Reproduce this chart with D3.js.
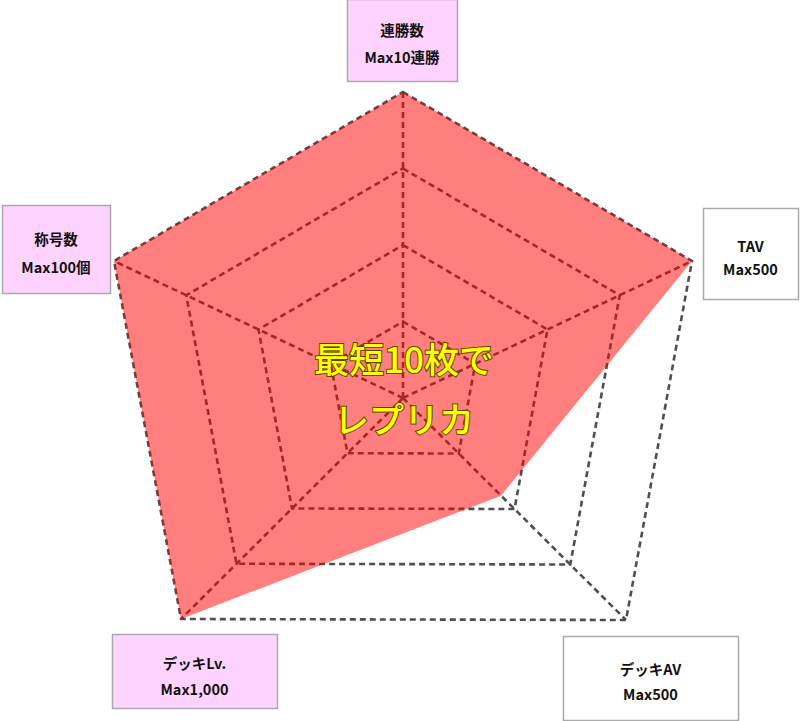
<!DOCTYPE html>
<html>
<head>
<meta charset="utf-8">
<script src="https://cdn.jsdelivr.net/npm/d3@7"></script>
<style>
  html, body { margin: 0; padding: 0; background: #fff; }
  svg { display: block; }
</style>
</head>
<body>
<svg id="chart" width="800" height="721"></svg>
<script>
// ---- data ----
const categories = ["連勝数", "TAV", "デッキAV", "デッキLv.", "称号数"];
const maxLabels = ["Max10連勝", "Max500", "Max500", "Max1,000", "Max100個"];
const maxValues = [10, 500, 500, 1000, 100];
const values = [10, 500, 220, 1000, 100];
const highlighted = [true, false, false, true, true];
const gridLevels = [0.25, 0.5, 0.75, 1];
const centerText = ["最短10枚で", "レプリカ"];

// ---- layout ----
const svg = d3.select("#chart");
const cx = 403, cy = 398;
// axis end vectors (the reference pentagon is drawn slightly irregular)
const axisVec = [[0, -306], [289, -137], [223, 222], [-222, 221], [-289, -137]];
const boxes = [
  {x: 347, y: -1, w: 110, h: 82, t1: 29, t2: 56},
  {x: 703, y: 208, w: 95, h: 91, t1: 245, t2: 268},
  {x: 563, y: 636, w: 175, h: 84, t1: 668, t2: 693},
  {x: 112, y: 634, w: 165, h: 74, t1: 662, t2: 688},
  {x: 2, y: 205, w: 108, h: 88, t1: 238, t2: 266}
];

const scales = maxValues.map(m => d3.scaleLinear().domain([0, m]).range([0, 1]));
const pt = (i, f) => [cx + axisVec[i][0] * f, cy + axisVec[i][1] * f];

const gridColor = "#4f4f4f";
const line = d3.line();

// grid rings
svg.append("g").selectAll("path.ring").data(gridLevels).join("path")
  .attr("d", f => line(categories.map((c, i) => pt(i, f))) + "Z")
  .attr("fill", "none")
  .attr("stroke", gridColor)
  .attr("stroke-width", 2.6)
  .attr("stroke-dasharray", "6,4");

// spokes
svg.append("g").selectAll("line").data(categories).join("line")
  .attr("x1", cx).attr("y1", cy)
  .attr("x2", (c, i) => pt(i, 1)[0])
  .attr("y2", (c, i) => pt(i, 1)[1])
  .attr("stroke", gridColor)
  .attr("stroke-width", 2.6)
  .attr("stroke-dasharray", "6,4");

// data polygon
svg.append("path")
  .attr("d", line(values.map((v, i) => pt(i, scales[i](v)))) + "Z")
  .attr("fill", "rgba(255,0,0,0.5)")
  .attr("stroke", "none");

// label boxes
const lg = svg.append("g").selectAll("g").data(categories).join("g");
lg.append("rect")
  .attr("x", (c, i) => boxes[i].x + 0.5)
  .attr("y", (c, i) => boxes[i].y + 0.5)
  .attr("width", (c, i) => boxes[i].w)
  .attr("height", (c, i) => boxes[i].h)
  .attr("fill", (c, i) => highlighted[i] ? "#FFD3FF" : "#FFFFFF")
  .attr("stroke", "#AAAAAA")
  .attr("stroke-width", 1.5);
lg.append("text")
  .attr("x", (c, i) => boxes[i].x + boxes[i].w / 2)
  .attr("y", (c, i) => boxes[i].t1)
  .attr("text-anchor", "middle")
  .attr("dominant-baseline", "central")
  .attr("font-family", "'Noto Sans CJK JP', 'Noto Sans', sans-serif")
  .attr("font-weight", 700)
  .attr("font-size", 14.5)
  .attr("fill", "#111")
  .text(c => c);
lg.append("text")
  .attr("x", (c, i) => boxes[i].x + boxes[i].w / 2)
  .attr("y", (c, i) => boxes[i].t2)
  .attr("text-anchor", "middle")
  .attr("dominant-baseline", "central")
  .attr("font-family", "'Noto Sans CJK JP', 'Noto Sans', sans-serif")
  .attr("font-weight", 700)
  .attr("font-size", 14.5)
  .attr("fill", "#111")
  .text((c, i) => maxLabels[i]);

// center text
svg.append("g").selectAll("text").data(centerText).join("text")
  .attr("x", 404)
  .attr("y", (d, i) => 357 + i * 60)
  .attr("text-anchor", "middle")
  .attr("dominant-baseline", "central")
  .attr("font-family", "'Noto Sans CJK JP', sans-serif")
  .attr("font-weight", 500)
  .attr("font-size", 35)
  .attr("fill", "#FFFF00")
  .attr("stroke", "#5a4800")
  .attr("stroke-width", 2)
  .attr("paint-order", "stroke")
  .text(d => d);
</script>
</body>
</html>
